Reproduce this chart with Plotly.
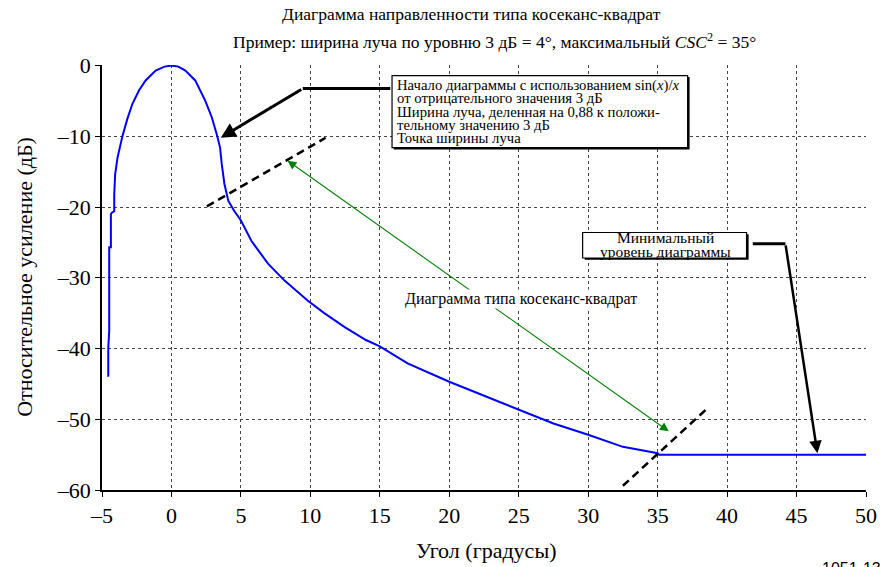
import plotly.graph_objects as go

# ---- data ----
angle_deg = [-4.55, -4.55, -4.48, -4.48, -4.36, -4.36, -4.29, -4.12, -4.12, -4.05, -3.88, -3.69, -3.53,
             -3.17, -2.81, -2.33, -1.86, -1.14, -0.5, 0.0, 0.5, 1.0, 1.71, 2.43, 2.9, 3.26, 3.5,
             3.62, 3.81, 4.09, 4.5, 5.0, 5.76, 6.95, 8.14, 9.8, 11.0, 12.5, 14.0, 15.0, 17.0,
             20.0, 22.5, 25.0, 27.5, 30.0, 32.5, 35.0, 35.1, 50.0]
gain_db = [-44.0, -40.0, -37.5, -25.7, -25.7, -21.0, -20.8, -20.6, -18.2, -15.3, -13.0, -11.1, -10.0,
           -7.5, -5.4, -3.5, -2.1, -0.7, -0.15, 0.0, -0.15, -0.7, -2.1, -4.95, -7.3, -9.7, -11.6,
           -13.9, -16.7, -19.1, -20.5, -21.9, -24.8, -28.0, -30.4, -33.2, -35.0, -37.0, -38.8,
           -39.7, -42.1, -44.7, -46.7, -48.6, -50.6, -52.2, -53.9, -54.8, -55.0, -55.0]

x_ticks = [-5, 0, 5, 10, 15, 20, 25, 30, 35, 40, 45, 50]
x_ticktext = ["–5", "0", "5", "10", "15", "20", "25", "30", "35", "40", "45", "50"]
y_ticks = [0, -10, -20, -30, -40, -50, -60]
y_ticktext = ["0", "–10", "–20", "–30", "–40", "–50", "–60"]

title1 = "Диаграмма направленности типа косеканс-квадрат"
title2 = "Пример: ширина луча по уровню 3 дБ = 4°, максимальный <i>CSC</i><sup>2</sup> = 35°"
x_title = "Угол (градусы)"
y_title = "Относительное усиление (дБ)"
box1_lines = ["Начало диаграммы с использованием sin(<i>x</i>)/<i>x</i>",
              "от отрицательного значения 3 дБ",
              "Ширина луча, деленная на 0,88 к положи-",
              "тельному значению 3 дБ",
              "Точка ширины луча"]
box2_lines = ["Минимальный", "уровень диаграммы"]
csc_label = "Диаграмма типа косеканс-квадрат"
fig_id = "1051-13"

SERIF = "Liberation Serif, Times New Roman, Times, serif"

# plot area geometry (pixels)
W, H = 889, 567
L, R, T, B = 102, 16, 65, 77
PW, PH = W - L - R, H - T - B


def px_to_paper(px, py):
    return (px - L) / PW, (H - B - py) / PH


fig = go.Figure()
fig.add_trace(go.Scatter(x=angle_deg, y=gain_db, mode="lines",
                         line=dict(color="#0000ff", width=2), showlegend=False,
                         hoverinfo="skip"))

shapes = []
annotations = []

# box 1 (shadow + box)
shapes.append(dict(type="rect", xref="x", yref="y", x0=16.0, x1=37.3, y0=-1.6, y1=-11.85,
                   fillcolor="black", line=dict(width=0), layer="above"))
shapes.append(dict(type="rect", xref="x", yref="y", x0=15.88, x1=37.16, y0=-1.41, y1=-11.6,
                   fillcolor="white", line=dict(color="black", width=1.2), layer="above"))
# box 2
shapes.append(dict(type="rect", xref="x", yref="y", x0=29.75, x1=41.55, y0=-23.85, y1=-27.45,
                   fillcolor="black", line=dict(width=0), layer="above"))
shapes.append(dict(type="rect", xref="x", yref="y", x0=29.6, x1=41.4, y0=-23.6, y1=-27.2,
                   fillcolor="white", line=dict(color="black", width=1.2), layer="above"))

# leader segments
shapes.append(dict(type="line", xref="x", yref="y", x0=15.75, y0=-3.25, x1=9.45, y1=-3.25,
                   line=dict(color="black", width=3), layer="above"))
shapes.append(dict(type="line", xref="x", yref="y", x0=41.85, y0=-25.2, x1=44.2, y1=-25.2,
                   line=dict(color="black", width=3), layer="above"))

# dashed beamwidth lines
shapes.append(dict(type="line", xref="x", yref="y", x0=2.55, y0=-19.9, x1=11.1, y1=-10.2,
                   line=dict(color="black", width=2.5, dash="8px,5px"), layer="above"))
shapes.append(dict(type="line", xref="x", yref="y", x0=32.5, y0=-59.4, x1=38.5, y1=-48.6,
                   line=dict(color="black", width=2.5, dash="8px,5px"), layer="above"))

# arrows
annotations.append(dict(xref="x", yref="y", axref="x", ayref="y", x=3.55, y=-10.2,
                        ax=9.45, ay=-3.25, text="", showarrow=True, arrowhead=2,
                        arrowsize=1, arrowwidth=3, arrowcolor="black", standoff=0))
annotations.append(dict(xref="x", yref="y", axref="x", ayref="y", x=46.5, y=-54.8,
                        ax=44.2, ay=-25.2, text="", showarrow=True, arrowhead=2,
                        arrowsize=1, arrowwidth=2.5, arrowcolor="black", standoff=0))
annotations.append(dict(xref="x", yref="y", axref="x", ayref="y", x=35.8, y=-51.7,
                        ax=8.25, ay=-13.3, text="", showarrow=True, arrowhead=2,
                        startarrowhead=2, arrowside="end+start", arrowsize=1.6,
                        startarrowsize=1.6, arrowwidth=1.1, arrowcolor="#008000",
                        standoff=0, startstandoff=0))

# box 1 text
for i, line in enumerate(box1_lines):
    px, py = 398, 85 + i * 13.3
    xp, yp = px_to_paper(px, py)
    annotations.append(dict(xref="paper", yref="paper", x=xp, y=yp, xanchor="left",
                            yanchor="middle", text=line, showarrow=False,
                            font=dict(family=SERIF, size=14.7, color="black")))
# box 2 text
for i, line in enumerate(box2_lines):
    xp, yp = px_to_paper(671, 237.5 + i * 14)
    annotations.append(dict(xref="paper", yref="paper", x=xp, y=yp, xanchor="center",
                            yanchor="middle", text=line, showarrow=False,
                            font=dict(family=SERIF, size=15.5, color="black")))

# csc label
xp, yp = px_to_paper(525, 299)
annotations.append(dict(xref="paper", yref="paper", x=xp, y=yp, text=csc_label,
                        showarrow=False, xanchor="center", yanchor="middle",
                        bgcolor="white", borderpad=0,
                        font=dict(family=SERIF, size=16, color="black")))

# titles
xp, yp = px_to_paper(475, 14)
annotations.append(dict(xref="paper", yref="paper", x=xp, y=yp, text=title1, showarrow=False,
                        xanchor="center", yanchor="middle",
                        font=dict(family=SERIF, size=17.5, color="black")))
xp, yp = px_to_paper(498, 41)
annotations.append(dict(xref="paper", yref="paper", x=xp, y=yp, text=title2, showarrow=False,
                        xanchor="center", yanchor="middle",
                        font=dict(family=SERIF, size=17.5, color="black")))
# axis titles
xp, yp = px_to_paper(490, 550)
annotations.append(dict(xref="paper", yref="paper", x=xp, y=yp, text=x_title, showarrow=False,
                        xanchor="center", yanchor="middle",
                        font=dict(family=SERIF, size=22, color="black")))
xp, yp = px_to_paper(23, 277)
annotations.append(dict(xref="paper", yref="paper", x=xp, y=yp, text=y_title, showarrow=False,
                        xanchor="center", yanchor="middle", textangle=-90,
                        font=dict(family=SERIF, size=22, color="black")))
# figure id (partly cut by the bottom edge, as in the reference)
xp, yp = px_to_paper(827, 558)
annotations.append(dict(xref="paper", yref="paper", x=xp, y=yp, text=fig_id, showarrow=False,
                        xanchor="left", yanchor="top",
                        font=dict(family="Liberation Sans, Arial, sans-serif", size=16,
                                  color="black")))

axis_common = dict(showline=True, linecolor="black", linewidth=1.5, mirror=False,
                   ticks="outside", ticklen=5, tickwidth=1.2, tickcolor="black",
                   showgrid=True, gridcolor="#444444", gridwidth=1, griddash="3px,3px",
                   zeroline=False, tickfont=dict(family=SERIF, size=22, color="black"))

fig.update_layout(
    width=W, height=H,
    margin=dict(l=L, r=R, t=T, b=B),
    paper_bgcolor="white", plot_bgcolor="white",
    font=dict(family=SERIF, color="black"),
    xaxis=dict(range=[-5, 50], tickvals=x_ticks, ticktext=x_ticktext, **axis_common),
    yaxis=dict(range=[-60, 0.08], tickvals=y_ticks, ticktext=y_ticktext, **axis_common),
    shapes=shapes, annotations=annotations,
    showlegend=False,
)

fig.write_html("out.html")
